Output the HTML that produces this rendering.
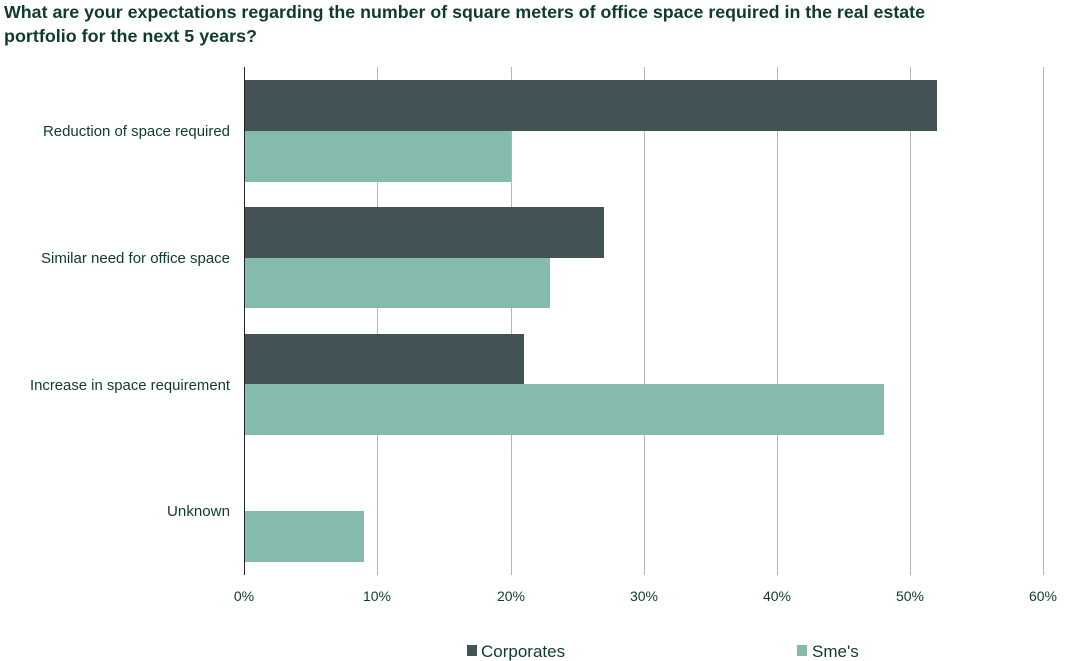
<!DOCTYPE html>
<html><head><meta charset="utf-8"><style>
body{margin:0;background:#fff;}
svg{display:block;font-family:"Liberation Sans",sans-serif;}
</style></head><body>
<svg width="1065" height="661" viewBox="0 0 1065 661">
<text x="4" y="18" font-size="17.5" font-weight="bold" fill="#0f3b2e" textLength="921" lengthAdjust="spacingAndGlyphs">What are your expectations regarding the number of square meters of office space required in the real estate</text>
<text x="4" y="42" font-size="17.5" font-weight="bold" fill="#0f3b2e" textLength="253" lengthAdjust="spacingAndGlyphs">portfolio for the next 5 years?</text>
<g stroke="#b5b5b5" stroke-width="1">
<line x1="377.5" y1="67" x2="377.5" y2="575"/>
<line x1="511.5" y1="67" x2="511.5" y2="575"/>
<line x1="644.5" y1="67" x2="644.5" y2="575"/>
<line x1="777.5" y1="67" x2="777.5" y2="575"/>
<line x1="910.5" y1="67" x2="910.5" y2="575"/>
<line x1="1043.5" y1="67" x2="1043.5" y2="575"/>
</g>
<g fill="#435254">
<rect x="244" y="80" width="693" height="51"/>
<rect x="244" y="207" width="360" height="51"/>
<rect x="244" y="334" width="280" height="50"/>
</g>
<g fill="#84bbad">
<rect x="244" y="131" width="267" height="51"/>
<rect x="244" y="258" width="306" height="50"/>
<rect x="244" y="384" width="640" height="51"/>
<rect x="244" y="511" width="120" height="51"/>
</g>
<line x1="244.5" y1="67" x2="244.5" y2="575" stroke="#222" stroke-width="1"/>
<g font-size="14.5" fill="#0f3b2e" text-anchor="end">
<text x="230" y="136" textLength="187" lengthAdjust="spacingAndGlyphs">Reduction of space required</text>
<text x="230" y="263" textLength="189" lengthAdjust="spacingAndGlyphs">Similar need for office space</text>
<text x="230" y="390" textLength="200" lengthAdjust="spacingAndGlyphs">Increase in space requirement</text>
<text x="230" y="516" textLength="63" lengthAdjust="spacingAndGlyphs">Unknown</text>
</g>
<g font-size="14" fill="#0f3b2e" text-anchor="middle">
<text x="244" y="601">0%</text>
<text x="377" y="601">10%</text>
<text x="511" y="601">20%</text>
<text x="644" y="601">30%</text>
<text x="777" y="601">40%</text>
<text x="910" y="601">50%</text>
<text x="1043" y="601">60%</text>
</g>
<rect x="467" y="645" width="10" height="11" fill="#435254"/>
<text x="481" y="657" font-size="17" fill="#0f3b2e">Corporates</text>
<rect x="797" y="645" width="10" height="11" fill="#84bbad"/>
<text x="812" y="657" font-size="17" fill="#0f3b2e">Sme's</text>
</svg>
</body></html>
